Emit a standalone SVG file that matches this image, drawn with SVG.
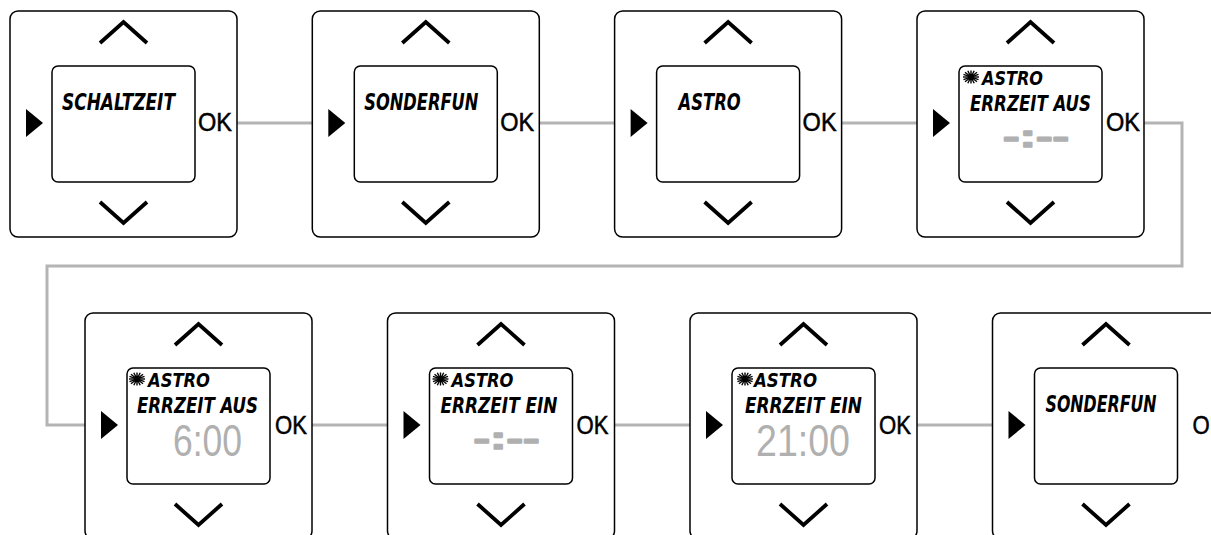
<svg xmlns="http://www.w3.org/2000/svg" xmlns:xlink="http://www.w3.org/1999/xlink" width="1211" height="535" viewBox="0 0 1211 535">
<style>
.frame{fill:#fff;stroke:#000;stroke-width:1.5}
.lcd{fill:#fff;stroke:#000;stroke-width:1.5}
.chev{fill:none;stroke:#000;stroke-width:3.8;stroke-linejoin:miter}
.tri{fill:#000}
.ok{font-family:"Liberation Sans",Arial,sans-serif;font-size:25px;fill:#000;stroke:#000;stroke-width:0.5}
.lcdt{font-family:"DejaVu Sans Condensed","DejaVu Sans","Liberation Sans",sans-serif;font-weight:bold;font-style:italic;font-size:23px;fill:#000}
.l1{font-size:20px}
.l2{font-size:22px}
.dig{font-family:"Liberation Sans",Arial,sans-serif;font-size:45px;fill:#b0b0b0}
.dash{font-family:"Liberation Sans",Arial,sans-serif;font-weight:bold;font-size:32px;fill:#b0b0b0;stroke:#b0b0b0;stroke-width:1.6;stroke-linejoin:round}
.conn{fill:none;stroke:#b4b4b4;stroke-width:3}
.sun line{stroke:#000;stroke-width:1.4}
</style>
<defs>
<g id="frame">
<rect class="frame" x="0" y="0" width="227" height="226" rx="8"/>
<rect class="lcd" x="42" y="55" width="143" height="116" rx="6"/>
<polyline class="chev" points="90,32 113.5,11 137,32"/>
<polyline class="chev" points="90,191 113.5,212 137,191"/>
<polygon class="tri" points="16,98 16,126 33,112"/>
</g>
<g id="sun" class="sun">
<circle cx="0" cy="0" r="3.2" fill="#000"/>
<line x1="-8" y1="0" x2="8" y2="0"/>
<line x1="0" y1="-6.5" x2="0" y2="6.5"/>
<line x1="-6" y1="-4.8" x2="6" y2="4.8"/>
<line x1="-6" y1="4.8" x2="6" y2="-4.8"/>
<line x1="-3.2" y1="-6.2" x2="3.2" y2="6.2"/>
<line x1="-3.2" y1="6.2" x2="3.2" y2="-6.2"/>
<line x1="-7.5" y1="-2.6" x2="7.5" y2="2.6"/>
<line x1="-7.5" y1="2.6" x2="7.5" y2="-2.6"/>
</g>
</defs>
<rect width="1211" height="535" fill="#fff"/>
<g id="connectors">
<line class="conn" x1="237" y1="123" x2="312.3" y2="123"/>
<line class="conn" x1="539.3" y1="123" x2="614.6" y2="123"/>
<line class="conn" x1="841.6" y1="123" x2="917" y2="123"/>
<polyline class="conn" points="1144,123 1182,123 1182,266 47,266 47,425 85,425"/>
<line class="conn" x1="312" y1="425" x2="387.5" y2="425"/>
<line class="conn" x1="614.5" y1="425" x2="690" y2="425"/>
<line class="conn" x1="917" y1="425" x2="992.5" y2="425"/>
</g>
<g id="panel1" transform="translate(10,11)">
<use xlink:href="#frame"/>
<text class="lcdt" x="52" y="99" textLength="113" lengthAdjust="spacingAndGlyphs">SCHALTZEIT</text>
<text class="ok" x="188" y="120" textLength="34" lengthAdjust="spacingAndGlyphs">OK</text>
</g>
<g id="panel2" transform="translate(312.3,11)">
<use xlink:href="#frame"/>
<text class="lcdt" x="52" y="99" textLength="114" lengthAdjust="spacingAndGlyphs">SONDERFUN</text>
<text class="ok" x="188" y="120" textLength="34" lengthAdjust="spacingAndGlyphs">OK</text>
</g>
<g id="panel3" transform="translate(614.6,11)">
<use xlink:href="#frame"/>
<text class="lcdt" x="64" y="99" textLength="62" lengthAdjust="spacingAndGlyphs">ASTRO</text>
<text class="ok" x="188" y="120" textLength="34" lengthAdjust="spacingAndGlyphs">OK</text>
</g>
<g id="panel4" transform="translate(917,11)">
<use xlink:href="#frame"/>
<use xlink:href="#sun" transform="translate(54,66)"/>
<text class="lcdt l1" x="65" y="74" textLength="61" lengthAdjust="spacingAndGlyphs">ASTRO</text>
<text class="lcdt l2" x="53" y="99.5" textLength="121" lengthAdjust="spacingAndGlyphs">ERRZEIT AUS</text>
<text class="dash" x="86" y="136" textLength="66" lengthAdjust="spacingAndGlyphs">-:--</text>
<text class="ok" x="189" y="120" textLength="34" lengthAdjust="spacingAndGlyphs">OK</text>
</g>
<g id="panel5" transform="translate(85,313)">
<use xlink:href="#frame"/>
<use xlink:href="#sun" transform="translate(52,66)"/>
<text class="lcdt l1" x="63" y="74" textLength="62" lengthAdjust="spacingAndGlyphs">ASTRO</text>
<text class="lcdt l2" x="52" y="99.5" textLength="121" lengthAdjust="spacingAndGlyphs">ERRZEIT AUS</text>
<text class="dig" x="88" y="143" textLength="69" lengthAdjust="spacingAndGlyphs">6:00</text>
<text class="ok" x="190" y="121" textLength="32" lengthAdjust="spacingAndGlyphs">OK</text>
</g>
<g id="panel6" transform="translate(387.5,313)">
<use xlink:href="#frame"/>
<use xlink:href="#sun" transform="translate(53,66)"/>
<text class="lcdt l1" x="64" y="74" textLength="62" lengthAdjust="spacingAndGlyphs">ASTRO</text>
<text class="lcdt l2" x="53" y="99.5" textLength="117" lengthAdjust="spacingAndGlyphs">ERRZEIT EIN</text>
<text class="dash" x="86" y="136" textLength="66" lengthAdjust="spacingAndGlyphs">-:--</text>
<text class="ok" x="189" y="121" textLength="32" lengthAdjust="spacingAndGlyphs">OK</text>
</g>
<g id="panel7" transform="translate(690,313)">
<use xlink:href="#frame"/>
<use xlink:href="#sun" transform="translate(55,66)"/>
<text class="lcdt l1" x="64" y="74" textLength="63" lengthAdjust="spacingAndGlyphs">ASTRO</text>
<text class="lcdt l2" x="55" y="99.5" textLength="117" lengthAdjust="spacingAndGlyphs">ERRZEIT EIN</text>
<text class="dig" x="66" y="143" textLength="94" lengthAdjust="spacingAndGlyphs">21:00</text>
<text class="ok" x="189" y="121" textLength="32" lengthAdjust="spacingAndGlyphs">OK</text>
</g>
<g id="panel8" transform="translate(992.5,313)">
<use xlink:href="#frame"/>
<text class="lcdt" x="53" y="99" textLength="111" lengthAdjust="spacingAndGlyphs">SONDERFUN</text>
<text class="ok" x="200" y="121" textLength="32" lengthAdjust="spacingAndGlyphs">OK</text>
</g>
</svg>
